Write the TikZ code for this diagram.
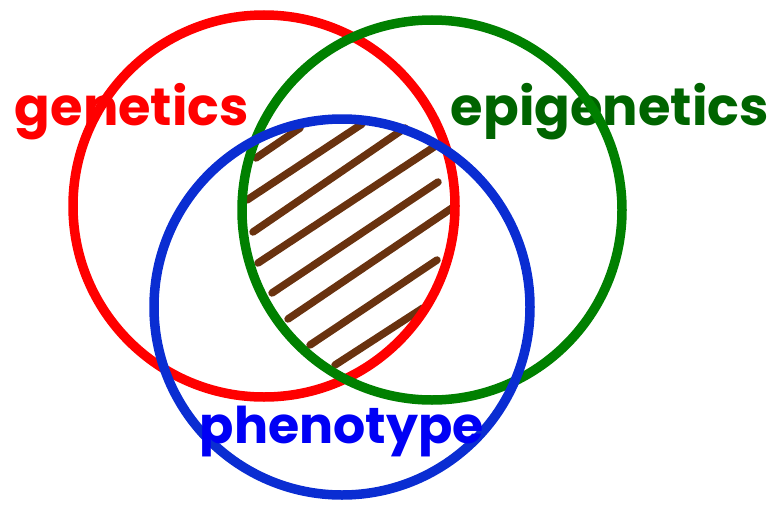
\documentclass[tikz,border=0pt]{standalone}
\usepackage{fontspec}
\setmainfont{Poppins}
\definecolor{cred}{RGB}{255,0,0}
\definecolor{cgreen}{RGB}{0,128,0}
\definecolor{tgreen}{RGB}{0,100,0}
\definecolor{cblue}{RGB}{10,45,210}
\definecolor{tblue}{RGB}{0,0,245}
\definecolor{hatchbrown}{RGB}{105,50,15}
\begin{document}
\begin{tikzpicture}[x=1pt,y=-1pt,
  ring/.style={line width=9.5pt},
  hatchline/.style={line width=7.5pt,color=hatchbrown,line cap=round},
  label/.style={inner sep=0pt,font=\bfseries}]
\useasboundingbox (0,0) rectangle (776,506);
% labels
\node[label,text=cred] (gen) at (132,112) {\resizebox{234pt}{!}{genetics}};
\node[label,text=tgreen] (epi) at (610,112) {\resizebox{318pt}{!}{epigenetics}};
% hatch
\draw[hatchline] (256,158) -- (300,128);
\draw[hatchline] (247,200) -- (362,124);
\draw[hatchline] (253,232) -- (405,128);
\draw[hatchline] (258,263) -- (437,145);
\draw[hatchline] (272,293) -- (438,182);
\draw[hatchline] (288,319) -- (452,208);
\draw[hatchline] (310,345) -- (437,260);
\draw[hatchline] (335,365) -- (423,308);
% circles
\draw[ring,cred] (264,206) circle[radius=191];
\draw[ring,cgreen] (432,210) circle[radius=190];
\draw[ring,cblue] (342,307) circle[radius=188];
\node[label,text=tblue] (phe) at (342,432) {\resizebox{284pt}{!}{phenotype}};
\end{tikzpicture}
\end{document}
